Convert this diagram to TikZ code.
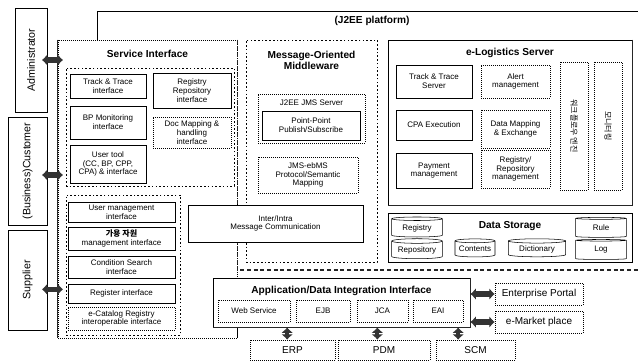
\documentclass[tikz,border=0pt]{standalone}
\usepackage{fontspec}
\setmainfont{Liberation Sans}
\newfontfamily\kofont{Noto Sans CJK KR}
\usetikzlibrary{arrows.meta,fit,positioning,shapes.geometric}

\begin{document}
\begin{tikzpicture}[x=0.75pt, y=-0.75pt,
    font=\fontsize{6}{6.6}\selectfont,
    box/.style={draw, inner sep=0pt, fill=white, line width=0.5pt},
    dotbox/.style={box, densely dotted},
    txt/.style={label={[align=center, inner sep=0pt]center:{#1}}},
    group/.style={draw, inner sep=0pt, dash pattern=on 1.2pt off 1.6pt},
    title/.style={font=\fontsize{7.6}{8.6}\selectfont\bfseries, align=center},
    side/.style={font=\fontsize{8}{10}\selectfont},
    big/.style={label={[font=\fontsize{7.5}{9}\selectfont, inner sep=0pt]center:{#1}}},
    drum/.style={cylinder, draw, shape border rotate=90, aspect=0.12, inner sep=0pt, fill=white},
    fat/.style={line width=4pt, black!80, {Latex[length=4pt,width=9pt]}-{Latex[length=4pt,width=9pt]}},
    heavy/.style={line width=1.2pt, black!85}
  ]
    \useasboundingbox (0,0) rectangle (638,363);

    % actors on the left
    \node[box, fit={(15,8) (47,112)}, label={[side, rotate=90]center:Administrator}] (admin) {};
    \node[box, fit={(8,117) (47,225)}, label={[side, rotate=90]center:(Business)Customer}] (cust) {};
    \node[box, fit={(8,230) (47,330)}, label={[side, rotate=90]center:Supplier}] (supp) {};

    % J2EE platform
    \coordinate (j2nw) at (97,11);
    \coordinate (j2ne) at (638,11);
    \coordinate (j2se) at (638,270);
    \draw[line width=0.6pt] (97,40) -- (j2nw) -- (j2ne);
    \node[title] (j2ee) at (372,21) {(J2EE platform)};

    % service interface
    \node[box, densely dotted, fit={(58,40) (237,338)}] (si) {};
    \node[title, below=4pt of si.north] (sititle) {Service Interface};
    \draw[heavy] (si.north west) -- (si.south west);
    \draw[heavy, densely dashed] (si.north east) -- (si.east |- j2se) -- (j2se);
    \draw (si.east |- 0,290) -- (si.south east);

    \node[group, fit={(66,68) (234,186)}] (siup) {};
    \node[box, fit={(70,74) (146,98)}, txt={Track \& Trace\\interface}] (tti) {};
    \node[box, fit={(153,73) (231,108)}, txt={Registry\\Repository\\interface}] (rri) {};
    \node[box, fit={(70,106) (146,139)}, txt={BP Monitoring\\interface}] (bpm) {};
    \node[dotbox, fit={(153,117) (231,148)}, txt={Doc Mapping \&\\handling\\interface}] (dmi) {};
    \node[box, fit={(70,145) (146,183)}, txt={User tool\\(CC, BP, CPP,\\CPA) \& interface}] (uti) {};

    \node[group, fit={(66,195) (180,335)}] (silow) {};
    \node[box, fit={(68,202) (175,222)}, txt={User management\\interface}] (umi) {};
    \node[box, fit={(68,227) (175,250)}, txt={{\kofont\bfseries 가용 자원}\\management interface}] (rmi) {};
    \node[box, fit={(68,256) (175,278)}, txt={Condition Search\\interface}] (csi) {};
    \node[box, fit={(68,284) (175,303)}, txt={Register interface}] (rgi) {};
    \node[dotbox, fit={(68,307) (175,330)}, txt={e-Catalog Registry\\interoperable interface}] (eci) {};

    \draw[fat, shorten <=-4pt, shorten >=-4pt] (admin.east) -- (admin.east -| si.west);
    \draw[fat, shorten <=-4pt, shorten >=-4pt] ([yshift=-3pt]cust.east) -- ([yshift=-3pt]cust.east -| si.west);
    \draw[fat, shorten <=-4pt, shorten >=-4pt] ([yshift=-7pt]supp.east) -- ([yshift=-7pt]supp.east -| si.west);

    % message-oriented middleware
    \node[group, fit={(246,40) (377,262)}] (mom) {};
    \node[title, below=5pt of mom.north] (momtitle) {Message-Oriented\\Middleware};
    \node[dotbox, fit={(258,94) (365,143)}] (jms) {};
    \node[below=1.5pt of jms.north] (jmstitle) {J2EE JMS Server};
    \node[box, fit={(262,111) (360,140)}, txt={Point-Point\\Publish/Subscribe}] (pps) {};
    \node[dotbox, fit={(258,157) (358,193)}, txt={JMS-ebMS\\Protocol/Semantic\\Mapping}] (jem) {};

    \node[box, fit={(188,205) (363,242)}, txt={Inter/Intra\\Message Communication}] (iim) {};

    % e-Logistics server
    \node[box, fit={(388,40) (632,205)}] (els) {};
    \draw[heavy] (els.north east) -- (els.south east) -- (els.south west);
    \node[title, below=3pt of els.north] (elstitle) {e-Logistics Server};
    \node[box, fit={(396,65) (472,98)}, txt={Track \& Trace\\Server}] (tts) {};
    \node[dotbox, fit={(481,65) (550,98)}, txt={Alert\\management}] (alm) {};
    \node[box, fit={(396,110) (472,140)}, txt={CPA Execution}] (cpa) {};
    \node[dotbox, fit={(481,110) (550,148)}, txt={Data Mapping\\\& Exchange}] (dme) {};
    \node[box, fit={(396,153) (472,188)}, txt={Payment\\management}] (pay) {};
    \node[dotbox, fit={(481,150) (550,188)}, txt={Registry/\\Repository\\management}] (rrm) {};
    \node[dotbox, fit={(560,62) (588,190)}, label={[rotate=-90]center:{\kofont 워크플로우 엔진}}] (wfe) {};
    \node[dotbox, fit={(594,62) (622,190)}, label={[rotate=-90]center:{\kofont 모니터링}}] (mon) {};

    % data storage
    \node[box, line width=0.7pt, fit={(388,213) (632,262)}] (dst) {};
    \node[title, below=3pt of dst.north] (dsttitle) {Data Storage};
    \node[drum, minimum width=38pt, minimum height=15pt] (reg) at (417,228) {Registry};
    \node[drum, minimum width=38pt, minimum height=15pt] (rep) at (417,250) {Repository};
    \node[drum, minimum width=30pt, minimum height=13.5pt] (cnt) at (475,249) {Contents};
    \node[drum, minimum width=43pt, minimum height=13.5pt] (dic) at (537,249) {Dictionary};
    \node[drum, minimum width=38pt, minimum height=15pt] (rul) at (601,228) {Rule};
    \node[drum, minimum width=38pt, minimum height=15pt] (log) at (601,250) {Log};

    % application / data integration
    \node[box, line width=0.7pt, fit={(213,278) (470,327)}] (adi) {};
    \draw[heavy] (adi.north east) -- (adi.south east) -- (adi.south west);
    \node[title, below=3pt of adi.north] (adititle) {Application/Data Integration Interface};
    \node[dotbox, fit={(218,300) (290,322)}, txt={Web Service}] (ws) {};
    \node[dotbox, fit={(296,300) (350,322)}, txt={EJB}] (ejb) {};
    \node[dotbox, fit={(357,300) (408,322)}, txt={JCA}] (jca) {};
    \node[dotbox, fit={(413,300) (463,322)}, txt={EAI}] (eai) {};

    \node[dotbox, fit={(495,283) (583,305)}, big={Enterprise Portal}] (ep) {};
    \node[dotbox, fit={(495,311) (583,333)}, big={e-Market place}] (emp) {};
    \draw[fat] (adi.east |- ep) -- (ep.west);
    \draw[fat] (adi.east |- emp) -- (emp.west);

    \node[dotbox, fit={(250,340) (335,360)}, big={ERP}] (erp) {};
    \node[dotbox, fit={(338,340) (430,360)}, big={PDM}] (pdm) {};
    \node[dotbox, fit={(436,340) (515,360)}, big={SCM}] (scm) {};
    \draw[fat, line width=3pt] ([xshift=-4pt]erp.north) -- ([xshift=-4pt]erp.north |- adi.south);
    \draw[fat, line width=3pt] ([xshift=-5pt]pdm.north) -- ([xshift=-5pt]pdm.north |- adi.south);
    \draw[fat, line width=3pt] ([xshift=-13pt]scm.north) -- ([xshift=-13pt]scm.north |- adi.south);
\end{tikzpicture}
\end{document}
